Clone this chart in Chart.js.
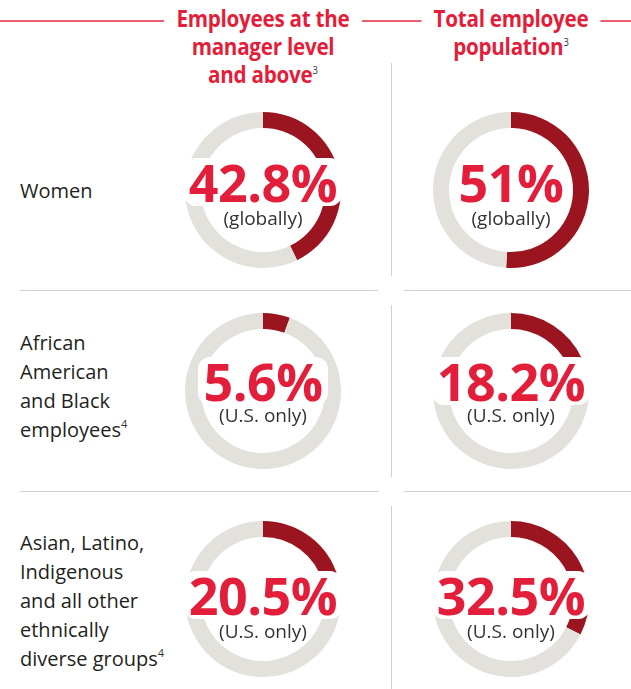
<!DOCTYPE html>
<html>
<head>
<meta charset="utf-8">
<script src="https://cdn.jsdelivr.net/npm/chart.js@4.4.1/dist/chart.umd.min.js"></script>
<style>
body { margin: 0; background: #fff; }
#page { position: relative; width: 631px; height: 689px; overflow: hidden; font-family: "Open Sans", sans-serif; color: #231f20; }
.redline { position: absolute; left: 0; top: 20px; width: 631px; height: 2px; background: #e8606d; }
.rule { position: absolute; background: #d3d0ca; }
.title { position: absolute; top: 4px; width: 260px; text-align: center; font-family: "Open Sans", sans-serif; font-weight: 700; font-size: 24px; line-height: 28px; color: #e31e3a; transform: scaleX(0.86); letter-spacing: -0.3px; }
.title span.first { background: #fff; padding: 0 14px; }
.note { font-family: "Open Sans", sans-serif; font-weight: normal; font-size: 11px; color: #333; vertical-align: 9px; line-height: 0; letter-spacing: 0; }
.label { position: absolute; left: 20px; font-size: 20px; line-height: 29px; color: #231f20; }
.ring { position: absolute; }
.big { position: absolute; width: 200px; text-align: center; }
.big span { display: inline-block; background: #fff; border-radius: 12px; padding: 0 5px; font-weight: 700; font-size: 52px; line-height: 48px; height: 48px; color: #e31e3a; letter-spacing: -0.5px; }
.scope { position: absolute; width: 200px; text-align: center; font-size: 19px; line-height: 24px; color: #333; }
</style>
</head>
<body>
<div id="page">
  <div class="redline"></div>
</div>
<script>
// data
var columnTitles = [['Employees at the', 'manager level', 'and above'], ['Total employee', 'population']];
var columnNotes = ['3', '3'];
var rowLabels = [
    ['Women'],
    ['African', 'American', 'and Black', 'employees'],
    ['Asian, Latino,', 'Indigenous', 'and all other', 'ethnically', 'diverse groups']
];
var rowNotes = ['', '4', '4'];
var managerShare = [42.8, 5.6, 20.5];
var totalShare = [51, 18.2, 32.5];
var scopeLabels = ['(globally)', '(U.S. only)', '(U.S. only)'];

// layout
var COL_X = [263, 511];
var RING_Y = [190, 391, 599];   // ring centres
var LABEL_Y = [190, 386, 600];  // centre of the row label block
var DIGIT_Y = [184, 383, 597];  // centre of the big number
var SCOPE_Y = [220, 417, 633];  // centre of the (globally)/(U.S. only) line
var RING_RED = '#9b1520';
var RING_GRAY = '#e2e1dc';
var page = document.getElementById('page');

function addDiv(cls, css, html) {
    var d = document.createElement('div');
    d.className = cls;
    for (var k in css) d.style[k] = css[k];
    if (html) d.innerHTML = html;
    page.appendChild(d);
    return d;
}

// dividers
addDiv('rule', { left: '391px', top: '63px', width: '1px', height: '213px' });
addDiv('rule', { left: '391px', top: '305px', width: '1px', height: '172px' });
addDiv('rule', { left: '391px', top: '506px', width: '1px', height: '183px' });
[290, 491].forEach(function (y) {
    addDiv('rule', { left: '20px', top: y + 'px', width: '358px', height: '1px' });
    addDiv('rule', { left: '404px', top: y + 'px', width: '227px', height: '1px' });
});

// column titles
columnTitles.forEach(function (lines, c) {
    var html = lines.map(function (t, i) {
        var note = i === lines.length - 1 ? '<span class="note">' + columnNotes[c] + '</span>' : '';
        return i === 0 ? '<div><span class="first">' + t + note + '</span></div>' : '<div>' + t + note + '</div>';
    }).join('');
    addDiv('title', { left: (COL_X[c] - 130) + 'px' }, html);
});

// row labels
rowLabels.forEach(function (lines, r) {
    var html = lines.map(function (t, i) {
        var note = (i === lines.length - 1 && rowNotes[r]) ? '<span class="note">' + rowNotes[r] + '</span>' : '';
        return t + note;
    }).join('<br>');
    var top = LABEL_Y[r] - lines.length * 29 / 2;
    addDiv('label', { top: top + 'px' }, html);
});

// doughnuts
function drawRing(cx, cy, value) {
    var canvas = document.createElement('canvas');
    canvas.width = 190;
    canvas.height = 190;
    canvas.className = 'ring';
    canvas.style.left = (cx - 95) + 'px';
    canvas.style.top = (cy - 95) + 'px';
    page.appendChild(canvas);

    new Chart(canvas, {
        type: 'doughnut',
        data: {
            labels: ['share', 'rest'],
            datasets: [{
                data: [value, 100 - value],
                backgroundColor: [RING_RED, RING_GRAY],
                borderWidth: 0
            }]
        },
        options: {
            responsive: false,
            animation: false,
            events: [],
            cutout: '79.5%',
            layout: { padding: 17 },
            plugins: { legend: { display: false }, tooltip: { enabled: false } }
        }
    });
}

[managerShare, totalShare].forEach(function (series, c) {
    series.forEach(function (v, r) {
        var cx = COL_X[c];
        drawRing(cx, RING_Y[r], v);
        addDiv('big', { left: (cx - 100) + 'px', top: (DIGIT_Y[r] - 26) + 'px' }, '<span>' + v + '%</span>');
        addDiv('scope', { left: (cx - 100) + 'px', top: (SCOPE_Y[r] - 14) + 'px' }, scopeLabels[r]);
    });
});
</script>
</body>
</html>
